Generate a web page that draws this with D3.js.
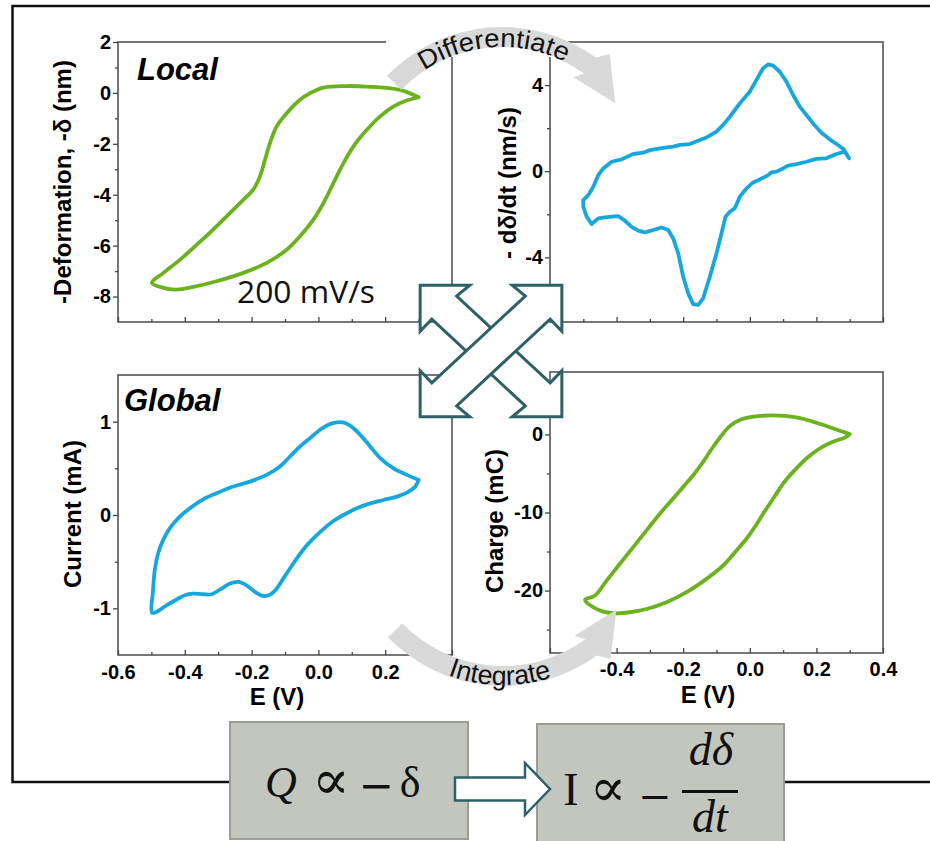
<!DOCTYPE html>
<html><head><meta charset="utf-8">
<script src="https://cdn.jsdelivr.net/npm/d3@7"></script>
<style>
html,body{margin:0;padding:0;background:#fff;overflow:hidden}
svg{display:block}
</style></head><body>
<svg id="c" width="930" height="841"></svg>
<script>
// ---------------- DATA ----------------
// Local: -deformation (nm) vs E (V)
const localE = [0.30, 0.244, 0.145, 0.085, 0.015, -0.025, -0.055, -0.095, -0.125, -0.145, -0.16, -0.175, -0.195, -0.225, -0.265, -0.315, -0.364, -0.414, -0.464, -0.499, -0.464, -0.424, -0.374, -0.305, -0.225, -0.155, -0.095, -0.055, -0.015, 0.015, 0.045, 0.075, 0.105, 0.145, 0.184, 0.224, 0.264, 0.30];
const localDef = [-0.17, 0.12, 0.25, 0.27, 0.21, -0.01, -0.27, -0.80, -1.32, -1.97, -2.63, -3.28, -3.80, -4.20, -4.72, -5.37, -5.96, -6.55, -7.07, -7.46, -7.66, -7.73, -7.62, -7.40, -7.07, -6.68, -6.16, -5.63, -4.98, -4.33, -3.54, -2.76, -2.10, -1.45, -0.93, -0.54, -0.30, -0.17];
// Differentiated: -d(delta)/dt (nm/s) vs E (V)
const diffE = [-0.50, -0.485, -0.47, -0.455, -0.44, -0.415, -0.385, -0.35, -0.32, -0.30, -0.26, -0.23, -0.21, -0.18, -0.15, -0.13, -0.10, -0.08, -0.06, -0.03, 0.00, 0.02, 0.04, 0.055, 0.07, 0.09, 0.11, 0.13, 0.15, 0.17, 0.19, 0.215, 0.24, 0.265, 0.282, 0.298, 0.285, 0.26, 0.23, 0.20, 0.17, 0.14, 0.115, 0.10, 0.08, 0.065, 0.055, 0.03, 0.01, -0.01, -0.03, -0.045, -0.06, -0.073, -0.085, -0.10, -0.12, -0.14, -0.155, -0.17, -0.185, -0.20, -0.215, -0.23, -0.245, -0.265, -0.29, -0.315, -0.335, -0.355, -0.375, -0.395, -0.415, -0.435, -0.455, -0.475, -0.49, -0.50, -0.50];
const diffRate = [-1.34, -1.11, -0.72, -0.18, 0.13, 0.44, 0.55, 0.80, 0.86, 0.98, 1.08, 1.14, 1.22, 1.26, 1.45, 1.57, 1.84, 2.15, 2.53, 3.15, 3.69, 4.24, 4.78, 4.96, 4.90, 4.62, 4.16, 3.54, 3.00, 2.61, 2.22, 1.79, 1.48, 1.22, 1.02, 0.60, 0.91, 0.80, 0.60, 0.57, 0.44, 0.33, 0.26, 0.13, -0.02, -0.05, -0.18, -0.38, -0.52, -0.80, -1.18, -1.72, -1.88, -2.11, -2.89, -3.81, -4.90, -5.90, -6.21, -6.17, -5.67, -4.90, -3.81, -3.12, -2.73, -2.61, -2.73, -2.84, -2.76, -2.58, -2.30, -2.08, -2.11, -2.14, -2.19, -2.45, -2.11, -1.65, -1.34];
// Global: current (mA) vs E (V)
const globalE = [0.30, 0.265, 0.225, 0.185, 0.155, 0.13, 0.105, 0.08, 0.055, 0.03, 0.005, -0.025, -0.055, -0.085, -0.115, -0.155, -0.205, -0.255, -0.305, -0.345, -0.385, -0.415, -0.445, -0.465, -0.48, -0.49, -0.495, -0.498, -0.485, -0.455, -0.425, -0.40, -0.375, -0.345, -0.32, -0.295, -0.265, -0.24, -0.215, -0.19, -0.165, -0.145, -0.125, -0.105, -0.075, -0.045, -0.015, 0.015, 0.045, 0.075, 0.115, 0.155, 0.195, 0.235, 0.265, 0.29, 0.30];
const globalI = [0.376, 0.43, 0.50, 0.61, 0.735, 0.84, 0.93, 0.986, 0.993, 0.968, 0.914, 0.824, 0.735, 0.627, 0.52, 0.43, 0.358, 0.305, 0.233, 0.168, 0.072, -0.018, -0.143, -0.269, -0.412, -0.591, -0.806, -1.047, -1.039, -0.968, -0.907, -0.86, -0.842, -0.849, -0.849, -0.80, -0.735, -0.717, -0.753, -0.824, -0.867, -0.853, -0.789, -0.681, -0.52, -0.369, -0.251, -0.151, -0.065, 0.0, 0.072, 0.125, 0.161, 0.197, 0.24, 0.305, 0.376];
// Integrated: charge (mC) vs E (V)
const chargeE = [0.30, 0.26, 0.20, 0.14, 0.07, 0.01, -0.03, -0.06, -0.08, -0.11, -0.14, -0.17, -0.20, -0.23, -0.27, -0.31, -0.35, -0.39, -0.43, -0.465, -0.495, -0.47, -0.44, -0.405, -0.36, -0.31, -0.25, -0.19, -0.13, -0.08, -0.04, -0.01, 0.015, 0.04, 0.06, 0.08, 0.10, 0.13, 0.17, 0.21, 0.25, 0.29, 0.30];
const chargeQ = [0.04, 0.64, 1.50, 2.18, 2.44, 2.27, 1.84, 1.07, 0.13, -1.58, -3.51, -5.22, -6.72, -8.22, -10.15, -12.29, -14.43, -16.57, -18.72, -20.64, -21.2, -22.14, -22.70, -22.91, -22.78, -22.36, -21.50, -20.21, -18.50, -16.79, -14.86, -13.36, -11.86, -10.15, -8.87, -7.58, -6.30, -4.80, -3.08, -1.80, -0.94, -0.30, 0.04];

// Ticks
const xDomain = [-0.6, 0.4];
const xMajor = [-0.6, -0.4, -0.2, 0, 0.2, 0.4];
const xMinor = [-0.5, -0.3, -0.1, 0.1, 0.3];
const globalXLabels = [-0.6, -0.4, -0.2, 0, 0.2];
const chargeXLabels = [-0.4, -0.2, 0, 0.2, 0.4];
const localDomain = [-9, 2], localTicks = [-8, -6, -4, -2, 0, 2], localMinor = [-7, -5, -3, -1, 1];
const diffDomain = [-7, 6], diffTicks = [-4, 0, 4], diffMinor = [-6, -2, 2];
const globalDomain = [-1.5, 1.5], globalTicks = [-1, 0, 1], globalMinor = [-0.5, 0.5];
const chargeDomain = [-28, 8], chargeTicks = [-20, -10, 0], chargeMinor = [-25, -15, -5, 5];

// ---------------- STYLE / LAYOUT ----------------
const GREEN = "#6cb21e", BLUE = "#17a7dc", TEAL = "#2e6068", BAND = "#d9d9d9";
const FONT = "'Liberation Sans', Arial, sans-serif";
const SERIF = "'Liberation Serif', 'DejaVu Serif', serif";
const MATH = "'DejaVu Serif', serif";
const svg = d3.select("#c");

// outer frame
svg.append("path").attr("d", "M930,6H12.5V782H930").attr("fill", "none").attr("stroke", "#111").attr("stroke-width", 2.5);

function drawPanel(cfg) {
  const b = cfg.box;
  const g = svg.append("g");
  const x = d3.scaleLinear().domain(xDomain).range([b.left, b.right]);
  const y = d3.scaleLinear().domain(cfg.yDomain).range([b.bottom, b.top]);
  g.append("rect").attr("x", b.left).attr("y", b.top).attr("width", b.right - b.left).attr("height", b.bottom - b.top)
    .attr("fill", "none").attr("stroke", "#555").attr("stroke-width", 1.6);
  const style = s => {
    s.attr("font-family", FONT).attr("font-size", 20).attr("font-weight", "bold");
    s.select(".domain").remove();
    s.selectAll(".tick line").attr("stroke", "#444").attr("stroke-width", 1.3);
    s.selectAll(".tick text").attr("fill", "#000");
  };
  g.append("g").attr("transform", `translate(0,${b.bottom})`)
    .call(d3.axisBottom(x).tickValues(xMajor).tickSize(-5).tickPadding(cfg.xPad || 10)
      .tickFormat(v => cfg.xLabels && cfg.xLabels.indexOf(v) >= 0 ? v.toFixed(1) : "")).call(style);
  g.append("g").attr("transform", `translate(0,${b.bottom})`)
    .call(d3.axisBottom(x).tickValues(xMinor).tickSize(-3).tickFormat("")).call(style);
  g.append("g").attr("transform", `translate(${b.left},0)`)
    .call(d3.axisLeft(y).tickValues(cfg.yMajor).tickSize(5).tickPadding(2).tickFormat(v => String(v))).call(style);
  g.append("g").attr("transform", `translate(${b.left},0)`)
    .call(d3.axisLeft(y).tickValues(cfg.yMinor).tickSize(3).tickFormat("")).call(style);

  const line = d3.line().x(d => x(d[0])).y(d => y(d[1])).curve(cfg.curve);
  g.append("path").attr("d", line(d3.zip(cfg.E, cfg.V))).attr("fill", "none").attr("stroke", cfg.color)
    .attr("stroke-width", 3.8).attr("stroke-linejoin", "round").attr("stroke-linecap", "round");

  g.append("text").attr("transform", `translate(${cfg.yTitle[0]},${cfg.yTitle[1]}) rotate(-90)`)
    .attr("text-anchor", "middle").attr("font-family", FONT).attr("font-size", 24).attr("font-weight", "bold")
    .text(cfg.yLabel);
  if (cfg.xTitle) {
    g.append("text").attr("x", cfg.xTitle[0]).attr("y", cfg.xTitle[1]).attr("text-anchor", "middle")
      .attr("font-family", FONT).attr("font-size", 24).attr("font-weight", "bold").text("E (V)");
  }
  return g;
}

const smooth = d3.curveCatmullRom.alpha(0.5);

drawPanel({box: {left: 118, right: 452, top: 42, bottom: 322}, yDomain: localDomain, yMajor: localTicks, yMinor: localMinor,
  xLabels: null, E: localE, V: localDef, color: GREEN, curve: smooth, yLabel: "-Deformation, -\u03b4 (nm)", yTitle: [71, 182]});
drawPanel({box: {left: 550, right: 883, top: 42, bottom: 322}, yDomain: diffDomain, yMajor: diffTicks, yMinor: diffMinor,
  xLabels: null, E: diffE, V: diffRate, color: BLUE, curve: d3.curveLinear, yLabel: "- d\u03b4/dt (nm/s)", yTitle: [516, 183]});
drawPanel({box: {left: 118, right: 452, top: 375, bottom: 655}, yDomain: globalDomain, yMajor: globalTicks, yMinor: globalMinor,
  xLabels: globalXLabels, xPad: 10, E: globalE, V: globalI, color: BLUE, curve: smooth, yLabel: "Current (mA)", yTitle: [81, 514], xTitle: [277, 705]});
drawPanel({box: {left: 550, right: 883, top: 372, bottom: 653}, yDomain: chargeDomain, yMajor: chargeTicks, yMinor: chargeMinor,
  xLabels: chargeXLabels, xPad: 9, E: chargeE, V: chargeQ, color: GREEN, curve: smooth, yLabel: "Charge (mC)", yTitle: [503, 521], xTitle: [708, 703]});

// panel titles
svg.append("text").attr("x", 137).attr("y", 80).attr("font-family", FONT).attr("font-size", 31)
  .attr("font-weight", "bold").attr("font-style", "italic").text("Local");
svg.append("text").attr("x", 124).attr("y", 411).attr("font-family", FONT).attr("font-size", 31)
  .attr("font-weight", "bold").attr("font-style", "italic").text("Global");
svg.append("text").attr("x", 237).attr("y", 303).attr("font-family", "'Open Sans', sans-serif").attr("font-size", 31)
  .attr("textLength", 138).attr("lengthAdjust", "spacingAndGlyphs").attr("fill", "#111").text("200 mV/s");

// white text-box backgrounds of the curved labels
svg.append("rect").attr("x", 386).attr("y", 20).attr("width", 182).attr("height", 37).attr("fill", "#fff");
svg.append("rect").attr("x", 441).attr("y", 657).attr("width", 107).attr("height", 40).attr("fill", "#fff");

// curved grey arrows
const deg = Math.PI / 180;
function curvedArrow(cx, cy, s, label, textR, tStart, tEnd, tLen, fs) {
  const r0 = 140, r1 = 160, a0 = -136 * s * deg, aE = -54 * s * deg;
  const P = (r, a) => [cx + r * Math.cos(a), cy + r * Math.sin(a)];
  const p = d3.path();
  const st = P(r1, a0); p.moveTo(st[0], st[1]);
  p.arc(cx, cy, r1, a0, aE, s < 0);
  [[171, -51], [141, -36.5], [131, -57]].forEach(([r, a]) => { const q = P(r, a * s * deg); p.lineTo(q[0], q[1]); });
  const ie = P(r0, aE); p.lineTo(ie[0], ie[1]);
  p.arc(cx, cy, r0, aE, a0, s > 0);
  p.closePath();
  svg.append("path").attr("d", p.toString()).attr("fill", BAND);
  const id = "tp" + (s > 0 ? "top" : "bot");
  const tp = d3.path();
  const ts = P(textR, tStart * deg); tp.moveTo(ts[0], ts[1]);
  tp.arc(cx, cy, textR, tStart * deg, tEnd * deg, s < 0);
  svg.append("defs").append("path").attr("id", id).attr("d", tp.toString());
  svg.append("text").attr("font-family", FONT).attr("font-size", fs).attr("fill", "#111")
    .append("textPath").attr("href", "#" + id).attr("startOffset", "50%").attr("text-anchor", "middle")
    .attr("textLength", tLen).attr("lengthAdjust", "spacingAndGlyphs").text(label);
}
curvedArrow(502, 187, 1, "Differentiate", 140, -156, -31, 148, 26);
curvedArrow(503, 526, -1, "Integrate", 159, 151.2, 31.2, 106, 27);

// crossing double arrows
const crossC = [491, 351], crossL = 97, headH = 34, shaftW = 17, sxs = 1.033, sys = 0.96;
function crossArrow(dir) {
  const u = [Math.SQRT1_2, -dir * Math.SQRT1_2];
  const v = [-u[1], u[0]];
  const L = crossL, H = headH, W = shaftW;
  const loc = [[L, 0], [L - H, H], [L - H + 1, W], [-(L - H + 1), W], [-(L - H), H], [-L, 0], [-(L - H), -H], [-(L - H + 1), -W], [L - H + 1, -W], [L - H, -H]];
  const pts = loc.map(([a, b]) => [crossC[0] + sxs * (a * u[0] + b * v[0]), crossC[1] + sys * (a * u[1] + b * v[1])]);
  svg.append("path").attr("d", d3.line()(pts) + "Z").attr("fill", "#fff").attr("stroke", TEAL)
    .attr("stroke-width", 3).attr("stroke-linejoin", "miter");
}
crossArrow(-1);
crossArrow(1);

// formula boxes
const boxFill = "#c3c6bf", boxStroke = "#9a9d93";
svg.append("rect").attr("x", 230).attr("y", 722).attr("width", 238).attr("height", 117).attr("fill", boxFill).attr("stroke", boxStroke).attr("stroke-width", 2);
svg.append("rect").attr("x", 537).attr("y", 724).attr("width", 247).attr("height", 130).attr("fill", boxFill).attr("stroke", boxStroke).attr("stroke-width", 2);

function sym(x, y, t, size, italic, fam) {
  svg.append("text").attr("x", x).attr("y", y).attr("text-anchor", "middle").attr("font-family", fam || SERIF)
    .attr("font-size", size).attr("font-style", italic ? "italic" : "normal").attr("fill", "#111").text(t);
}
sym(281, 797, "Q", 44, true);
sym(331, 799, "\u221d", 56, false, MATH);
sym(376, 800, "\u2212", 42, false, MATH);
sym(410, 797, "\u03b4", 44, false);

sym(571, 805, "I", 46, false);
sym(608, 806, "\u221d", 54, false, MATH);
sym(655, 810, "\u2212", 40, false, MATH);
sym(711, 765, "d\u03b4", 46, true);
sym(710, 832, "dt", 46, true);
svg.append("line").attr("x1", 682).attr("x2", 738).attr("y1", 791.5).attr("y2", 791.5).attr("stroke", "#111").attr("stroke-width", 3);

// block arrow between boxes
const ba = {x0: 455, x1: 525, tip: 550, cy: 789, sh: 11.5, hh: 26};
const baPts = [[ba.x0, ba.cy - ba.sh], [ba.x1, ba.cy - ba.sh], [ba.x1, ba.cy - ba.hh], [ba.tip, ba.cy], [ba.x1, ba.cy + ba.hh], [ba.x1, ba.cy + ba.sh], [ba.x0, ba.cy + ba.sh]];
svg.append("path").attr("d", d3.line()(baPts) + "Z").attr("fill", "#fff").attr("stroke", TEAL).attr("stroke-width", 2.5);
</script>
</body></html>
